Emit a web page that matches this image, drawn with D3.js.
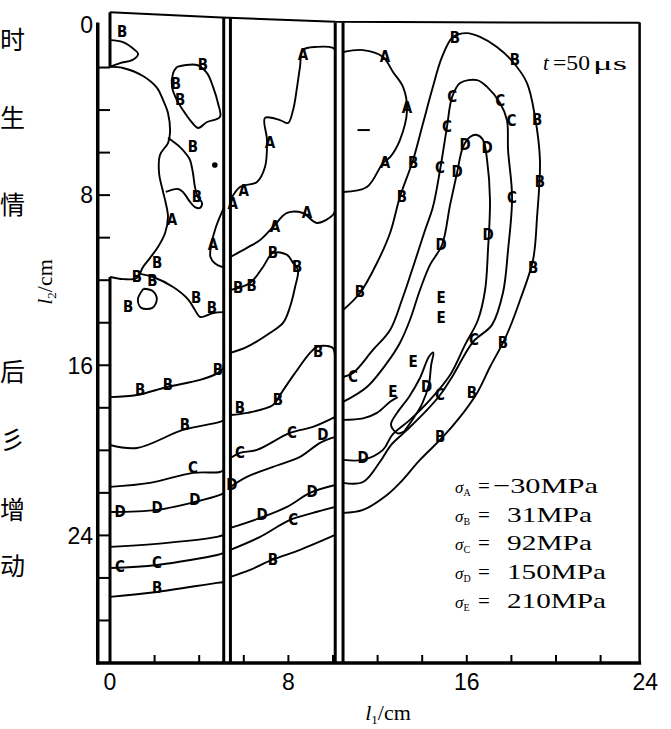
<!DOCTYPE html>
<html>
<head>
<meta charset="utf-8">
<script src="https://cdn.jsdelivr.net/npm/d3@7"></script>
<style>
body { margin: 0; background: #fff; }
</style>
</head>
<body>
<svg id="chart" width="671" height="729"></svg>
<script>
// stress levels of the contour lines
var levels = ["A", "B", "C", "D", "E"];
var stress = [-30, 31, 92, 150, 210];

var xTicks = [0, 8, 16, 24];
var yTicks = [0, 8, 16, 24];

// interfaces between the layers (cm)
var interfaceX = [5.1, 5.4, 10.1, 10.45];

// contour lines, l1 / l2 in cm
var loopB1 = [[0,0.71],[0.58,0.8],[1.12,1.18],[1.26,1.36],[0.99,1.65],[0.45,1.79],[0,1.97]];
var lineA1 = [[0,1.97],[0.58,2.02],[1.48,2.4],[2.11,2.96],[2.38,3.53],[2.6,4.14],[2.69,5.08],[2.6,5.55],[2.24,6.11],[2.2,6.96],[2.38,7.85],[2.5,8.37],[2.6,9.03],[2.47,9.78],[2.15,10.44],[1.79,10.96],[1.48,11.38],[1.2,11.9],[0.6,11.95],[0,11.85]];
var loopB2 = [[2.6,5.3],[3.14,5.74],[3.45,6.11],[3.59,6.35],[3.72,6.96],[3.81,7.62],[3.94,8.09],[4.13,8.37],[4.04,8.6],[3.81,8.56],[3.59,8.32],[3.27,7.85],[3.05,7.71],[2.5,7.85]];
var loopB3 = [[3.0,1.97],[3.9,1.88],[4.35,2.26],[4.62,2.91],[4.84,3.67],[4.93,4.33],[4.35,4.56],[3.95,4.84],[3.59,4.47],[3.27,4.0],[3.0,3.53],[2.78,2.91],[2.83,2.26],[3.0,1.97]];
var lineA2 = [[5.1,8.6],[4.75,9.5],[4.55,10.3],[4.5,10.9],[4.7,11.2],[5.1,11.4]];
var lineB4 = [[1.35,11.7],[1.93,11.85],[2.83,12.32],[3.5,12.9],[3.81,13.4],[4.04,13.73],[4.62,13.54],[5.1,13.5]];
var loopB5 = [[1.5,12.4],[1.9,12.5],[2.1,12.9],[1.9,13.3],[1.4,13.3],[1.25,12.9],[1.5,12.4]];
var lineB6 = [[0,17.5],[1.21,17.4],[2.56,17.02],[4.04,16.69],[4.84,16.36],[5.1,16.1]];
var lineB7 = [[0,19.75],[1.21,19.89],[3.27,19.04],[4.93,18.66],[5.1,18.57]];
var lineC1 = [[0,21.72],[1.79,21.53],[3.72,21.06],[4.93,21.02],[5.1,20.92]];
var lineD1 = [[0,22.9],[2.11,22.8],[3.81,22.43],[4.93,22.1],[5.1,22.0]];
var lineD2 = [[0,24.54],[2.56,24.35],[4.8,24.07],[5.1,23.98]];
var lineC2 = [[0,25.53],[2.11,25.39],[4.8,24.92],[5.1,24.82]];
var lineB8 = [[0,26.89],[2.11,26.66],[4.8,26.23],[5.1,26.2]];

var lineA3 = [[5.4,8.23],[5.83,7.62],[6.59,7.38],[6.95,6.68],[7.04,5.41],[6.95,4.37],[7.62,4.47],[7.98,4.61],[8.21,4.0],[8.39,2.91],[8.52,1.97],[8.65,1.18],[9.28,1.03],[10.0,1.08],[10.1,1.18]];
var lineA4 = [[5.4,10.91],[6.14,10.48],[6.73,10.11],[7.31,9.5],[7.94,8.84],[8.65,8.84],[9.28,9.31],[10.0,8.93],[10.1,8.7]];
var lineB9 = [[5.4,12.46],[6.28,12.13],[6.86,11.38],[7.31,10.72],[7.94,10.81],[8.21,11.19],[8.43,11.52],[8.3,12.32],[8.07,13.26],[7.76,14.01],[7.17,14.48],[6.14,15.14],[5.4,15.42]];
var lineB10 = [[5.4,18.34],[6.14,18.24],[7.31,17.87],[7.62,17.4],[8.3,16.36],[8.97,15.42],[9.28,15.14],[9.73,15.09],[10.0,15.19],[10.1,15.75]];
var lineC3 = [[5.4,20.36],[5.83,20.12],[6.59,19.98],[8.07,19.18],[9.1,18.9],[10.1,18.43]];
var lineD3 = [[5.4,21.72],[6.14,21.25],[7.31,20.78],[8.52,20.31],[9.42,19.65],[10.1,19.37]];
var lineD4 = [[5.4,23.65],[6.73,23.18],[7.94,22.66],[8.97,22.0],[10.1,21.63]];
var lineC4 = [[5.4,24.68],[6.73,24.07],[8.07,23.27],[9.1,22.94],[10.1,22.66]];
var lineB11 = [[5.4,25.95],[6.28,25.62],[7.26,25.15],[8.52,24.68],[10.1,23.98]];

var lineA5 = [[10.45,1.27],[11.35,1.18],[12.24,1.5],[12.69,2.21],[13.14,2.91],[13.32,4.0],[13.0,5.41],[12.56,6.21],[12.24,6.49],[11.52,7.62],[10.45,7.85]];
var arcB = [[10.45,13.4],[11.21,12.6],[11.97,11.19],[12.56,9.78],[13.0,8.09],[13.59,6.35],[14.04,4.61],[14.44,3.06],[14.89,1.5],[15.38,0.56],[16.01,0.38],[16.59,0.56],[17.35,1.03],[18.07,1.74],[18.7,2.73],[19.06,4.33],[19.28,6.35],[19.15,9.03],[18.97,11.05],[18.39,12.93],[17.94,14.2],[17.62,14.95],[17.04,16.08],[16.46,17.3],[15.7,18.43],[14.93,19.37],[13.9,20.45],[13.0,21.53],[12.42,22.1],[11.35,22.8],[10.45,22.94]];
var arcC = [[10.45,16.55],[10.9,16.36],[11.79,15.28],[12.56,14.34],[13.09,12.93],[13.59,11.38],[14.13,9.64],[14.48,8.56],[14.8,6.82],[15.11,4.8],[15.34,3.39],[15.7,2.73],[16.46,2.59],[16.91,2.91],[17.49,3.67],[17.8,4.47],[17.85,5.88],[18.03,8.09],[17.85,10.58],[17.62,12.6],[17.13,14.1],[16.28,14.9],[15.34,16.55],[14.8,17.4],[14.22,18.1],[13.32,19.04],[12.6,19.75],[12.1,20.55],[11.35,21.49],[10.45,21.53]];
var arcD = [[10.45,17.72],[11.52,17.02],[12.42,15.89],[13.0,14.95],[13.45,13.87],[13.9,12.46],[14.35,11.28],[14.89,10.34],[15.25,8.46],[15.56,6.96],[15.83,5.74],[16.14,5.27],[16.46,5.17],[16.73,5.41],[16.91,6.35],[17.04,8.23],[16.95,10.58],[16.82,12.46],[16.5,13.87],[15.92,15.04],[15.25,16.46],[14.35,17.63],[13.45,18.57],[12.65,19.28],[12.24,19.98],[11.35,20.45],[10.45,20.45]];
var lineE1 = [[10.45,18.57],[11.35,18.5],[11.97,18.24],[12.56,17.72],[12.9,17.5]];
var loopE = [[13.2,19.1],[13.6,18.5],[14.0,17.8],[14.3,16.9],[14.4,16.0],[14.5,15.4],[14.3,15.6],[13.9,16.6],[13.4,17.5],[12.9,18.2],[12.6,18.8],[12.9,19.2],[13.2,19.1]];

var contourLines = [loopB1, lineA1, loopB2, loopB3, lineA2, lineB4, loopB5, lineB6, lineB7, lineC1, lineD1, lineD2, lineC2, lineB8,
  lineA3, lineA4, lineB9, lineB10, lineC3, lineD3, lineD4, lineC4, lineB11,
  lineA5, arcB, arcC, arcD, lineE1, loopE];

// level letters written along the lines
var lineLabels = [
  ["B",0.54,0.33],["B",4.17,1.88],["B",2.95,2.75],["B",3.15,3.5],["B",3.72,5.74],["B",3.9,8.09],
  ["A",2.78,9.17],["A",4.62,10.34],["A",5.5,8.4],["A",6.0,7.8],["A",7.17,5.55],["A",8.65,1.41],["A",7.4,9.5],["A",8.83,8.84],
  ["A",12.33,1.5],["A",13.32,3.9],["A",12.33,6.49],
  ["B",1.21,11.85],["B",2.11,11.19],["B",1.9,12.0],["B",0.81,13.26],["B",3.86,12.84],["B",4.57,13.3],["B",5.75,12.37],["B",6.35,12.25],
  ["B",7.31,10.72],["B",8.39,11.38],["B",9.33,15.37],["B",4.84,16.22],["B",1.35,17.16],["B",2.6,16.93],["B",5.83,18.0],["B",7.53,17.63],
  ["B",3.36,18.8],["B",2.11,26.47],["B",7.31,25.15],
  ["C",3.72,20.8],["C",5.83,20.12],["C",8.16,19.18],["C",0.45,25.48],["C",2.11,25.3],["C",8.21,23.27],["C",10.9,16.55],
  ["D",0.45,22.9],["D",2.11,22.7],["D",3.81,22.33],["D",6.82,23.04],["D",9.06,21.96],["D",9.55,19.28],["D",5.47,21.63],["D",11.35,20.36],
  ["B",15.47,0.61],["B",18.16,1.65],["B",19.15,4.47],["B",19.28,7.38],["B",18.97,11.42],["B",17.62,14.95],["B",16.23,17.3],["B",14.8,19.37],
  ["B",13.59,6.49],["B",13.09,8.09],["B",11.21,12.55],
  ["C",15.34,3.39],["C",15.11,4.8],["C",14.8,6.72],["C",17.5,3.55],["C",18.0,4.5],["C",18.03,8.13],["C",16.32,14.81],["C",14.8,17.4],
  ["D",15.92,5.64],["D",16.91,5.78],["D",15.56,6.91],["D",14.85,10.34],["D",16.95,9.87],["D",14.2,17.0],
  ["E",14.85,12.84],["E",14.85,13.78],["E",13.59,15.84],["E",12.69,17.25]
];

var timeLabel = "50";

var x = d3.scaleLinear().domain([0, 24]).range([110, 645.2]);
var y = d3.scaleLinear().domain([0, 30]).range([25, 663]);

var svg = d3.select("#chart");

// characters of the neighbouring page at the left edge
var sideText = [["时", 40], ["生", 118], ["情", 205], ["后", 372], ["彡", 440], ["增", 510], ["动", 566]];
svg.selectAll("text.side")
  .data(sideText)
  .enter().append("text")
  .attr("class", "side")
  .attr("x", 0)
  .attr("y", function(d) { return d[1] + 9; })
  .style("font-family", "'Noto Sans CJK SC'")
  .style("font-size", "25px")
  .text(function(d) { return d[0]; });

var line = d3.line()
  .x(function(d) { return x(d[0]); })
  .y(function(d) { return y(d[1]); })
  .curve(d3.curveCatmullRom.alpha(0.5));

var plot = svg.append("g");

/* ------- CONTOURS -------*/
plot.selectAll("path.contour")
  .data(contourLines)
  .enter().append("path")
  .attr("class", "contour")
  .attr("d", line)
  .attr("fill", "none")
  .attr("stroke", "#000")
  .attr("stroke-width", 1.9);

plot.append("circle")
  .attr("cx", x(4.7)).attr("cy", y(6.58)).attr("r", 2.8);
plot.append("line")
  .attr("x1", x(11.1)).attr("x2", x(11.65))
  .attr("y1", y(4.94)).attr("y2", y(4.94))
  .attr("stroke", "#000").attr("stroke-width", 2);

plot.selectAll("text.lev")
  .data(lineLabels)
  .enter().append("text")
  .attr("class", "lev")
  .attr("x", function(d) { return x(d[1]); })
  .attr("y", function(d) { return y(d[2]); })
  .attr("text-anchor", "middle")
  .attr("dy", "0.36em")
  .style("font-family", "'DejaVu Sans Condensed', 'DejaVu Sans'")
  .style("font-weight", "bold")
  .style("font-size", "15px")
  .text(function(d) { return d[0]; });

/* ------- FRAME -------*/
var frame = svg.append("g").attr("stroke", "#000").attr("fill", "none");

// top edge of the specimen (scan is slightly skewed)
var topEdge = [[0, -0.6], [5, -0.35], [10.1, -0.15], [23.75, -0.1]];
frame.append("path")
  .attr("d", d3.line().x(function(d) { return x(d[0]); }).y(function(d) { return y(d[1]); })(topEdge))
  .attr("stroke-width", 2);

frame.append("line")
  .attr("x1", x(-0.55)).attr("x2", x(-0.55))
  .attr("y1", y(-0.12)).attr("y2", y(30) + 1.5)
  .attr("stroke-width", 3.5);
frame.append("line")
  .attr("x1", x(-0.55) - 1.5).attr("x2", x(23.75) + 1.5)
  .attr("y1", y(30)).attr("y2", y(30))
  .attr("stroke-width", 3.5);
frame.append("line")
  .attr("x1", x(23.75)).attr("x2", x(23.75))
  .attr("y1", y(-0.12)).attr("y2", y(30))
  .attr("stroke-width", 2.5);

// left edge of the specimen
[[-0.6, 1.97], [11.85, 30]].forEach(function(s) {
  frame.append("line")
    .attr("x1", x(0)).attr("x2", x(0))
    .attr("y1", y(s[0])).attr("y2", y(s[1]))
    .attr("stroke-width", 3);
});

// layer interfaces
frame.selectAll("line.iface")
  .data(interfaceX)
  .enter().append("line")
  .attr("class", "iface")
  .attr("x1", function(d) { return x(d); })
  .attr("x2", function(d) { return x(d); })
  .attr("y1", function(d) { return y(d < 6 ? -0.33 : -0.12); })
  .attr("y2", y(30))
  .attr("stroke-width", 3);

// ticks
frame.selectAll("line.ytick")
  .data(d3.range(2, 30, 2))
  .enter().append("line")
  .attr("class", "ytick")
  .attr("x1", x(-0.55)).attr("x2", x(0))
  .attr("y1", function(d) { return y(d); })
  .attr("y2", function(d) { return y(d); })
  .attr("stroke-width", 2);
frame.selectAll("line.xtick")
  .data(d3.range(2, 24, 2))
  .enter().append("line")
  .attr("class", "xtick")
  .attr("x1", function(d) { return x(d); })
  .attr("x2", function(d) { return x(d); })
  .attr("y1", y(30)).attr("y2", y(30) - 8)
  .attr("stroke-width", 2);

var tickFont = "'Liberation Sans', Arial, sans-serif";
svg.selectAll("text.xt")
  .data(xTicks)
  .enter().append("text")
  .attr("class", "xt")
  .attr("x", function(d) { return x(d); })
  .attr("y", 690)
  .attr("text-anchor", "middle")
  .style("font-family", tickFont)
  .style("font-size", "23px")
  .text(function(d) { return d; });
svg.selectAll("text.yt")
  .data(yTicks)
  .enter().append("text")
  .attr("class", "yt")
  .attr("x", 93)
  .attr("y", function(d) { return y(d); })
  .attr("dy", "0.36em")
  .attr("text-anchor", "end")
  .style("font-family", tickFont)
  .style("font-size", "23px")
  .text(function(d) { return d; });

/* ------- AXIS TITLES -------*/
var serif = "'Liberation Serif', 'DejaVu Serif', serif";
var xt = svg.append("text")
  .attr("x", 388).attr("y", 720)
  .attr("text-anchor", "middle")
  .style("font-family", serif).style("font-size", "22px");
xt.append("tspan").style("font-style", "italic").text("l");
xt.append("tspan").attr("dy", 4).style("font-size", "13px").text("1");
xt.append("tspan").attr("dy", -4).text("/cm");

var yt = svg.append("text")
  .attr("transform", "translate(52,282) rotate(-90)")
  .attr("text-anchor", "middle")
  .style("font-family", serif).style("font-size", "22px");
yt.append("tspan").style("font-style", "italic").text("l");
yt.append("tspan").attr("dy", 4).style("font-size", "13px").text("2");
yt.append("tspan").attr("dy", -4).text("/cm");

/* ------- TIME AND LEGEND -------*/
svg.append("text")
  .attr("x", 543).attr("y", 70)
  .style("font-family", serif).style("font-size", "21px").style("font-style", "italic")
  .text("t");
svg.append("text")
  .attr("x", 553).attr("y", 70)
  .attr("textLength", 37).attr("lengthAdjust", "spacingAndGlyphs")
  .style("font-family", serif).style("font-size", "22px")
  .text("=" + timeLabel);
svg.append("text")
  .attr("x", 593).attr("y", 70)
  .attr("textLength", 34).attr("lengthAdjust", "spacingAndGlyphs")
  .style("font-family", serif).style("font-size", "18px")
  .text("\u03bcs");

var leg = svg.append("g").style("font-family", serif);
levels.forEach(function(lv, i) {
  var by = 493 + i * 28.7;
  var t = leg.append("text").attr("x", 455).attr("y", by).style("font-size", "17px");
  t.append("tspan").style("font-style", "italic").text("\u03c3");
  t.append("tspan").attr("dy", 3).style("font-size", "10px").text(lv);
  leg.append("text").attr("x", 478).attr("y", by).style("font-size", "21px").text("=");
  var v = stress[i];
  var s = (v < 0 ? "\u2212" + (-v) : String(v)) + "MPa";
  var nd = String(Math.abs(v)).length;
  leg.append("text")
    .attr("x", v < 0 ? 493 : 507)
    .attr("y", by)
    .attr("textLength", 57 + 14 * nd + (v < 0 ? 20 : 0))
    .attr("lengthAdjust", "spacingAndGlyphs")
    .style("font-size", "22px")
    .text(s);
});
</script>
</body>
</html>
